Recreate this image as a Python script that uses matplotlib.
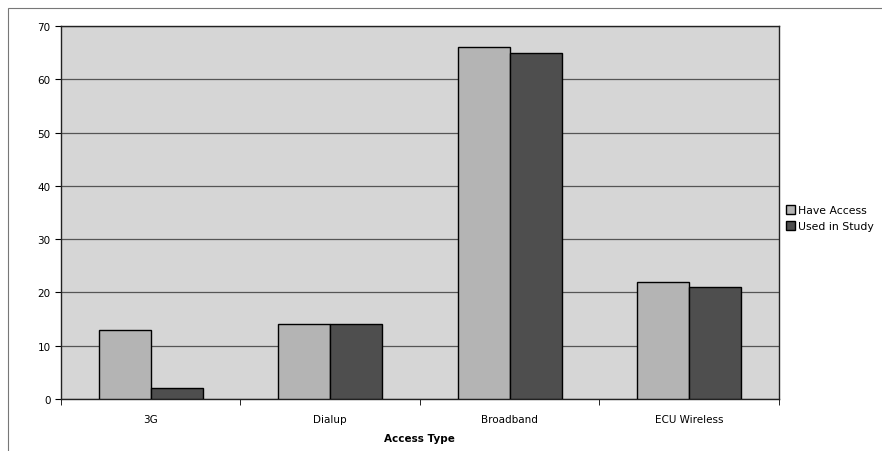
#!/usr/bin/env python3
"""Access type bar chart"""

import matplotlib.pyplot as plt
from matplotlib.patches import Rectangle
import numpy as np

categories = ['3G', 'Dialup', 'Broadband', 'ECU Wireless']
have_access = [13, 14, 66, 22]
used_in_study = [2, 14, 65, 21]


def main():
    """Run-time code"""
    fig = plt.figure(figsize=(8.82, 4.52), dpi=100)
    ax = fig.add_axes([0.069, 0.115, 0.814, 0.825])

    x = np.arange(len(categories))
    w = 0.29
    ax.bar(x - w / 2, have_access, w, color='#b4b4b4', edgecolor='black',
           linewidth=1.0, label='Have Access', zorder=3)
    ax.bar(x + w / 2, used_in_study, w, color='#4e4e4e', edgecolor='black',
           linewidth=1.0, label='Used in Study', zorder=3)

    ax.set_facecolor('#d6d6d6')
    ax.set_xlim(-0.5, len(categories) - 0.5)
    ax.set_ylim(0, 70)
    ax.set_yticks(range(0, 71, 10))
    ax.yaxis.grid(True, color='#555555', linewidth=0.9, zorder=1)
    ax.set_axisbelow(True)

    ax.set_xticks(x)
    ax.set_xticklabels(categories, fontsize=7.5)
    ax.set_xticks(np.arange(-0.5, len(categories)), minor=True)
    ax.tick_params(axis='x', which='major', length=0, pad=11)
    ax.tick_params(axis='x', which='minor', length=4, direction='out')
    ax.tick_params(axis='y', labelsize=7.5, length=4)
    ax.set_xlabel('Access Type', fontsize=7.5, fontweight='bold', labelpad=6)

    for side in ['top', 'right', 'left', 'bottom']:
        ax.spines[side].set_color('#222222')
        ax.spines[side].set_linewidth(1.0)

    ax.legend(loc='center left', bbox_to_anchor=(1.0, 0.485), frameon=False,
              fontsize=7.8, handlelength=0.8, handleheight=0.8,
              handletextpad=0.3, labelspacing=0.55, borderaxespad=0.3)

    # outer chart border (top and left edges visible)
    fig.patches.append(Rectangle((0.009, -0.01), 1.2, 0.99, transform=fig.transFigure,
                                 fill=False, edgecolor='#777777', linewidth=0.8))

    plt.savefig('out.png', dpi=100)


if __name__ == "__main__":
    main()
